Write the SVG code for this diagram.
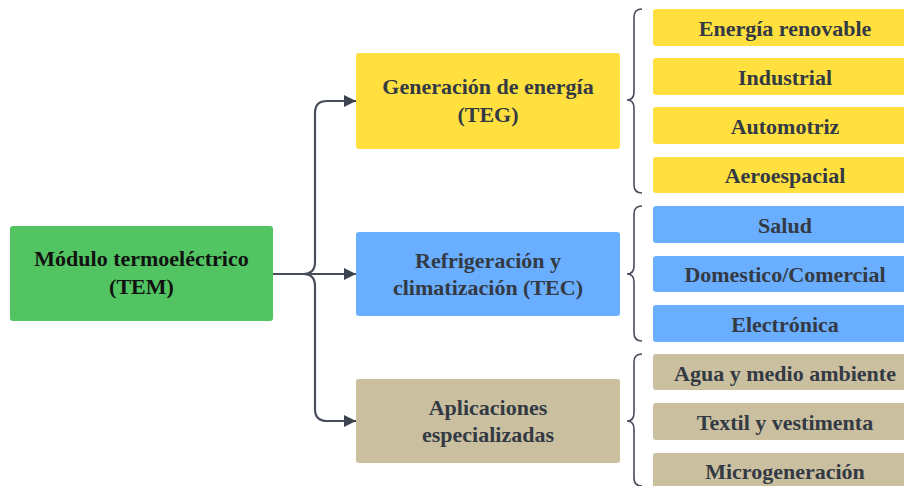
<svg xmlns="http://www.w3.org/2000/svg" width="904" height="486" viewBox="0 0 904 486">
<defs>
<marker id="ah" viewBox="0 0 10 10" refX="10" refY="5" markerWidth="12" markerHeight="12" markerUnits="userSpaceOnUse" orient="auto">
<path d="M0,0 L10,5 L0,10 Z" fill="#3d4350"/>
</marker>
<style>
.t{font-family:"Liberation Serif","Times New Roman",serif;font-weight:bold;font-size:22px;fill:#333a44;text-anchor:middle;dominant-baseline:central}
.tm{fill:#111}
.y{fill:#FFE03F}
.b{fill:#6AAEFF}
.k{fill:#CAC0A0}
.g{fill:#52C462}
.c{fill:none;stroke:#474d59;stroke-width:2.2}
.br{fill:none;stroke:#474d59;stroke-width:1.6}
</style>
</defs>
<rect width="904" height="486" fill="#fff"/>
<g id="connectors">
<path class="c" d="M273,274 H303 Q315,274 315,262 V113 Q315,101 327,101 H356" marker-end="url(#ah)"/>
<path class="c" d="M273,274 H356" marker-end="url(#ah)"/>
<path class="c" d="M273,274 H303 Q315,274 315,286 V409 Q315,421 327,421 H356" marker-end="url(#ah)"/>
<path class="br" d="M642,9 Q634,9 634,17 V92 Q634,100 627,100 Q634,100 634,108 V185 Q634,193 642,193"/>
<path class="br" d="M642,206 Q634,206 634,214 V266 Q634,274 627,274 Q634,274 634,282 V333 Q634,341 642,341"/>
<path class="br" d="M642,354 Q634,354 634,362 V413 Q634,421 627,421 Q634,421 634,429 V478 Q634,486 642,486"/>
</g>
<g id="tem"><rect class="g" x="10" y="226" width="263" height="95" rx="3"/><text class="t tm" x="141.5" y="258">Módulo termoeléctrico</text><text class="t tm" x="141.5" y="286">(TEM)</text></g>
<g id="teg"><rect class="y" x="356" y="53" width="264" height="96" rx="3"/><text class="t" x="488" y="86">Generación de energía</text><text class="t" x="488" y="114">(TEG)</text></g>
<g id="tec"><rect class="b" x="356" y="232" width="264" height="84" rx="3"/><text class="t" x="488" y="260">Refrigeración y</text><text class="t" x="488" y="287">climatización (TEC)</text></g>
<g id="esp"><rect class="k" x="356" y="379" width="264" height="84" rx="3"/><text class="t" x="488" y="407">Aplicaciones</text><text class="t" x="488" y="434">especializadas</text></g>
<g id="n1"><rect class="y" x="653" y="9" width="264" height="37" rx="3"/><text class="t" x="785" y="28">Energía renovable</text></g>
<g id="n2"><rect class="y" x="653" y="58" width="264" height="37" rx="3"/><text class="t" x="785" y="77">Industrial</text></g>
<g id="n3"><rect class="y" x="653" y="107" width="264" height="37" rx="3"/><text class="t" x="785" y="126">Automotriz</text></g>
<g id="n4"><rect class="y" x="653" y="157" width="264" height="36" rx="3"/><text class="t" x="785" y="175">Aeroespacial</text></g>
<g id="n5"><rect class="b" x="653" y="206" width="264" height="37" rx="3"/><text class="t" x="785" y="225">Salud</text></g>
<g id="n6"><rect class="b" x="653" y="256" width="264" height="36" rx="3"/><text class="t" x="785" y="274">Domestico/Comercial</text></g>
<g id="n7"><rect class="b" x="653" y="305" width="264" height="37" rx="3"/><text class="t" x="785" y="324">Electrónica</text></g>
<g id="n8"><rect class="k" x="653" y="354" width="264" height="36" rx="3"/><text class="t" x="785" y="373">Agua y medio ambiente</text></g>
<g id="n9"><rect class="k" x="653" y="403" width="264" height="37" rx="3"/><text class="t" x="785" y="422">Textil y vestimenta</text></g>
<g id="n10"><rect class="k" x="653" y="453" width="264" height="40" rx="3"/><text class="t" x="785" y="471">Microgeneración</text></g>
</svg>
